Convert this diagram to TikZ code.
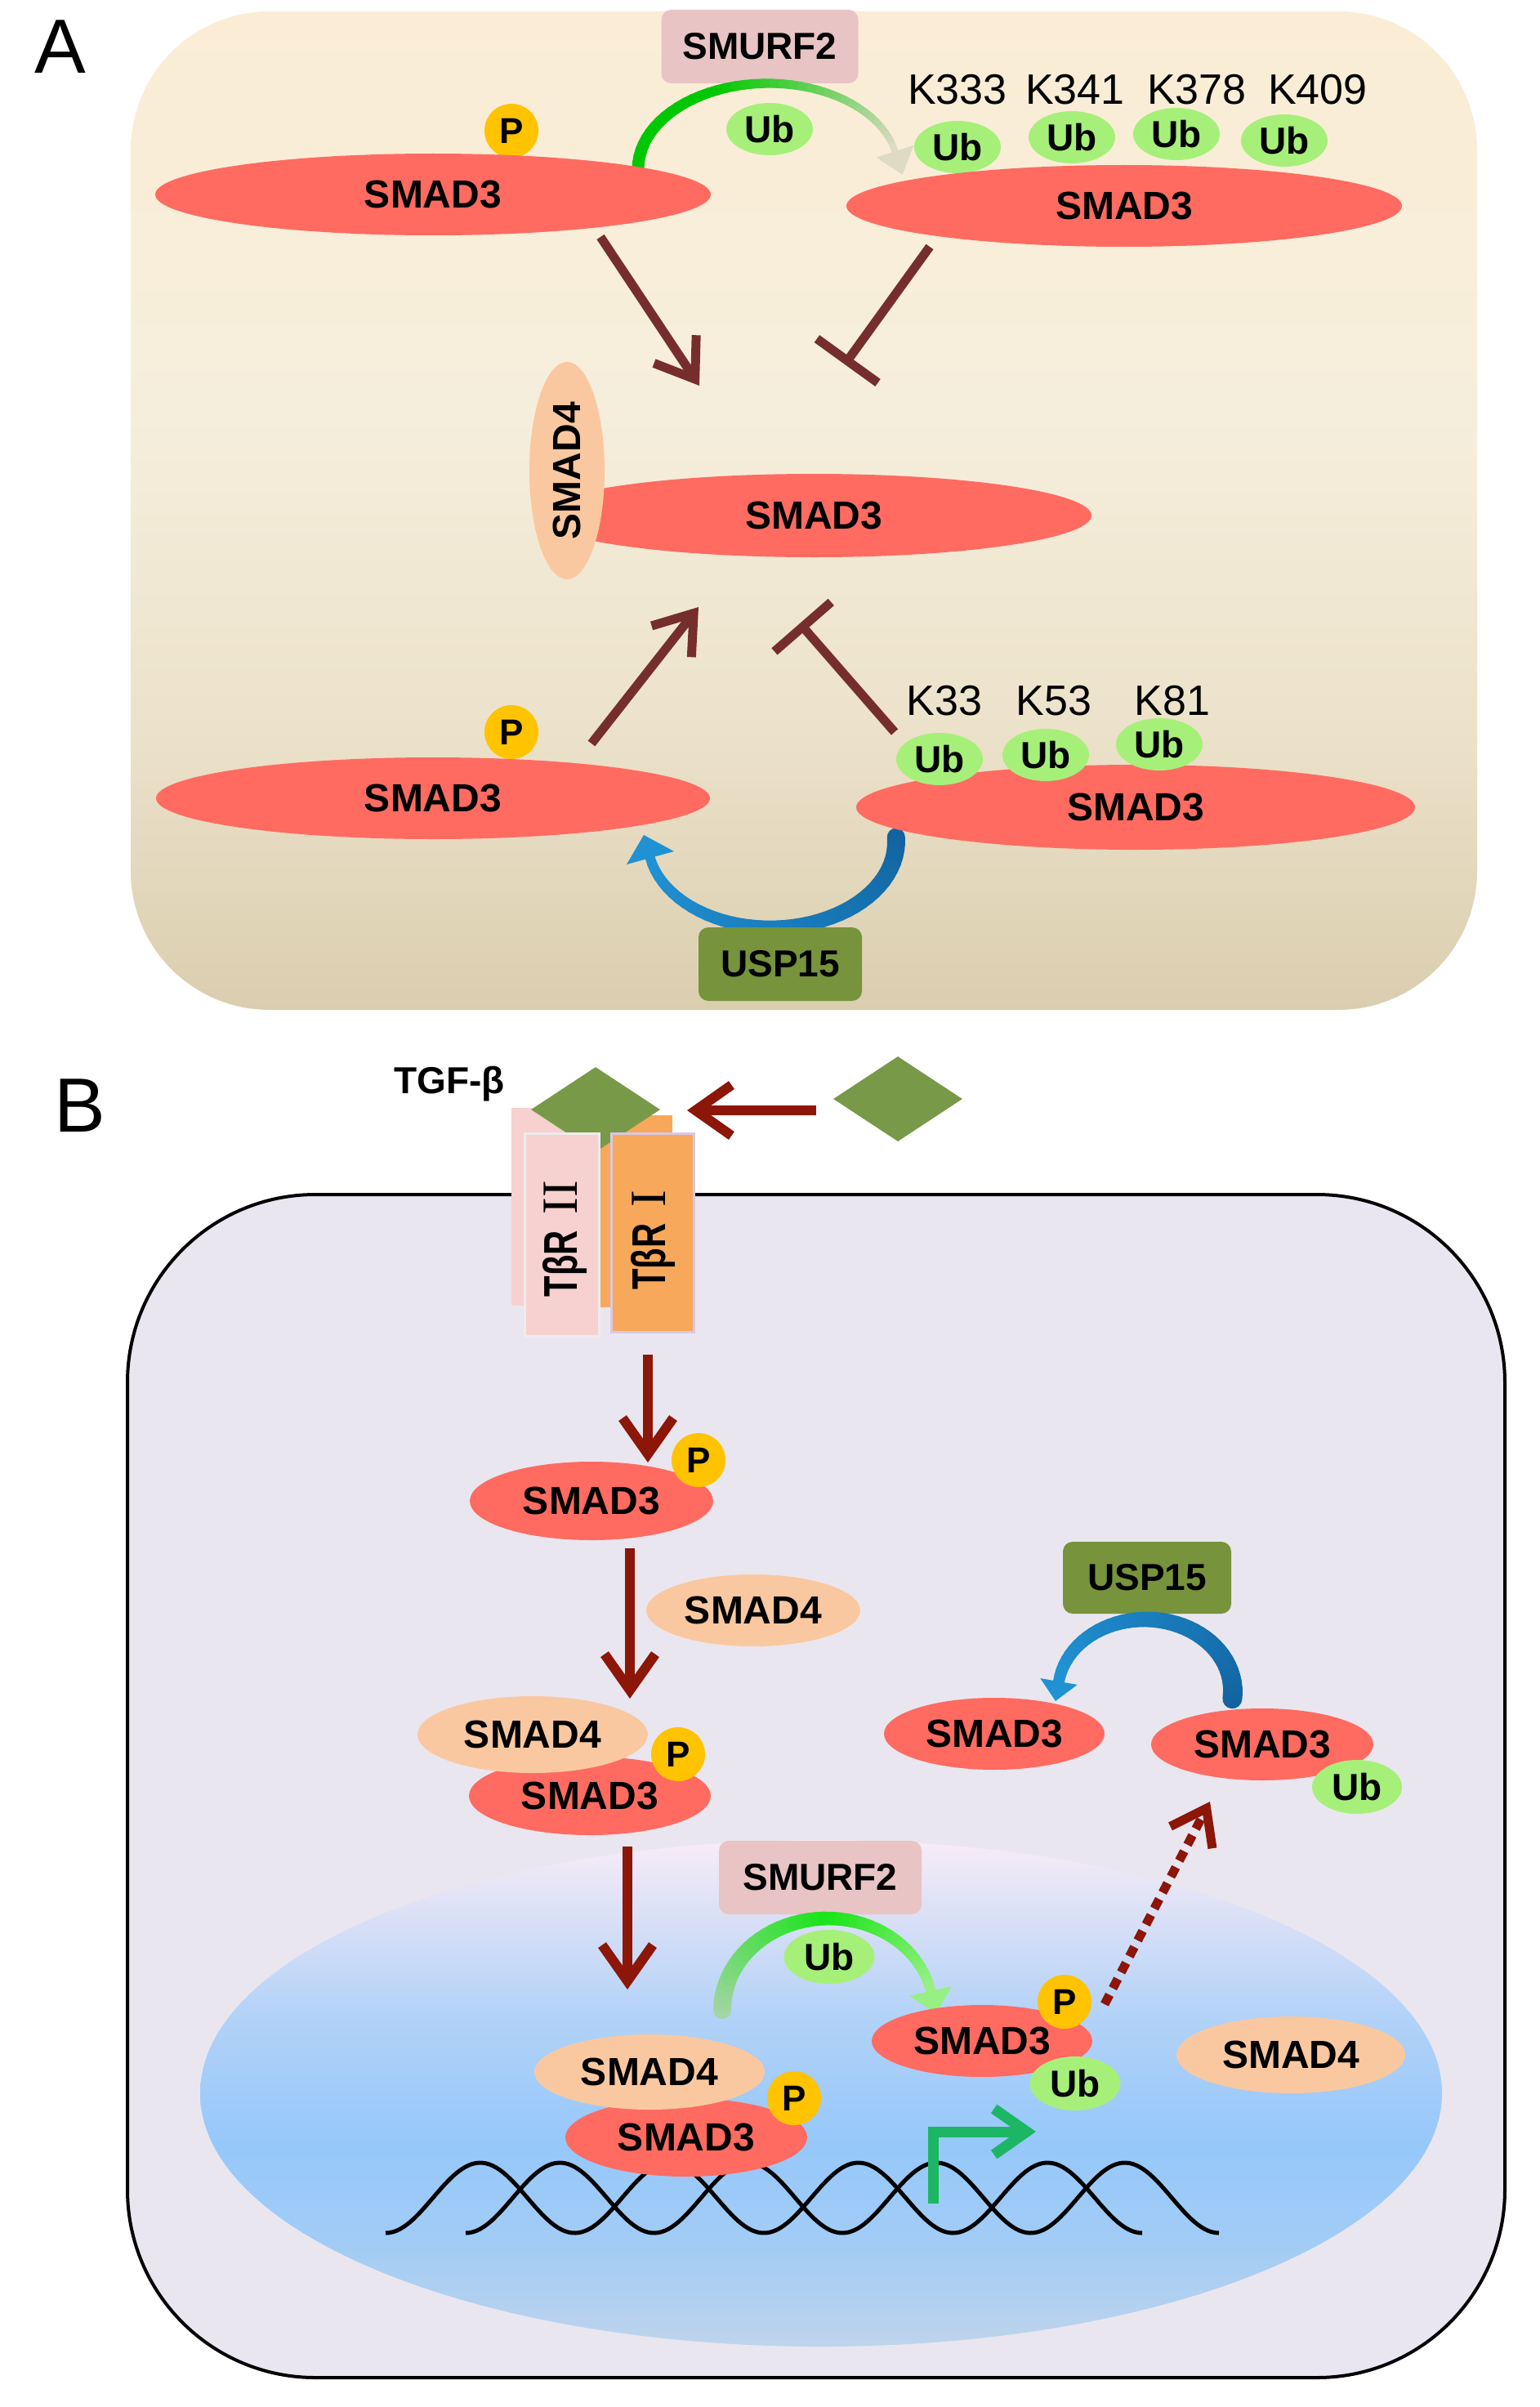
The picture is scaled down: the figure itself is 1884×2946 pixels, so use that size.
\documentclass[tikz,border=0pt]{standalone}
\usepackage{fontspec}
\setmainfont{Liberation Sans}
\newfontfamily\romanfont{Liberation Serif}
\usetikzlibrary{shapes.geometric,arrows.meta}
\definecolor{smadred}{RGB}{255,107,97}
\definecolor{smadpeach}{RGB}{250,200,160}
\definecolor{pgold}{RGB}{255,195,0}
\definecolor{ubgreen}{RGB}{166,240,122}
\definecolor{smurfpink}{RGB}{232,196,196}
\definecolor{uspolive}{RGB}{119,147,60}
\definecolor{diamondgreen}{RGB}{120,154,72}
\definecolor{brownA}{RGB}{118,46,44}
\definecolor{darkredB}{RGB}{140,22,8}
\definecolor{bentgreen}{RGB}{28,182,100}
\definecolor{cellfill}{RGB}{234,230,240}
\definecolor{panelAtop}{RGB}{251,237,213}
\definecolor{panelAmid}{RGB}{246,238,220}
\definecolor{panelAlow}{RGB}{237,227,204}
\definecolor{panelAbot}{RGB}{219,206,175}
\definecolor{nuctop}{RGB}{248,236,248}
\definecolor{nucmthree}{RGB}{218,224,246}
\definecolor{nucmtwo}{RGB}{178,210,248}
\definecolor{nucmid}{RGB}{150,200,250}
\definecolor{nucbtwo}{RGB}{162,204,245}
\definecolor{nucbot}{RGB}{190,212,236}
\definecolor{grnA}{RGB}{0,200,0}
\definecolor{paleA}{RGB}{222,218,196}
\definecolor{blueDark}{RGB}{18,100,160}
\definecolor{blueLight}{RGB}{32,146,212}
\definecolor{grnBpale}{RGB}{165,212,165}
\definecolor{grnBbright}{RGB}{25,228,25}
\definecolor{grnBlight}{RGB}{150,240,130}
\definecolor{trtwo}{RGB}{247,208,208}
\definecolor{trone}{RGB}{248,168,90}
\definecolor{trtwoedge}{RGB}{236,236,236}
\definecolor{troneedge}{RGB}{215,200,232}
\pgfdeclareverticalshading{nucshade}{100bp}{color(0bp)=(nucbot); color(25bp)=(nucbot); color(35bp)=(nucbtwo); color(45bp)=(nucmid); color(57.5bp)=(nucmtwo); color(67.5bp)=(nucmthree); color(75bp)=(nuctop); color(100bp)=(nuctop)}
\pgfdeclareverticalshading{panelAshade}{100bp}{color(0bp)=(panelAbot); color(25bp)=(panelAbot); color(40bp)=(panelAlow); color(55bp)=(panelAmid); color(75bp)=(panelAtop); color(100bp)=(panelAtop)}
\tikzset{
  lbl/.style={font=\fontsize{48}{50}\selectfont\bfseries, text=black},
  smadthree/.style={ellipse, fill=smadred, inner sep=0pt, lbl},
  smadfour/.style={ellipse, fill=smadpeach, inner sep=0pt, lbl},
  pdot/.style={circle, fill=pgold, inner sep=0pt, minimum size=66pt, font=\fontsize{44}{46}\selectfont\bfseries},
  ubdot/.style={ellipse, fill=ubgreen, inner sep=0pt, minimum width=106pt, minimum height=64pt, font=\fontsize{46}{48}\selectfont\bfseries},
  enzbox/.style={rectangle, rounded corners=12pt, inner sep=0pt, font=\fontsize{46}{48}\selectfont\bfseries},
  klabel/.style={font=\fontsize{52}{54}\selectfont},
  panellabel/.style={font=\fontsize{94}{96}\selectfont},
  tgflbl/.style={font=\fontsize{46}{48}\selectfont\bfseries},
  trlbl/.style={rotate=90, inner sep=0pt, font=\fontsize{58}{60}\selectfont},
  recbox/.style={rectangle, inner sep=0pt},
  ligand/.style={diamond, fill=diamondgreen, inner sep=0pt, minimum width=158pt, minimum height=104pt},
  brownarrow/.style={draw=brownA, line width=11pt, -{Straight Barb[length=44pt,width=62pt]}},
  browninhib/.style={draw=brownA, line width=11pt, -{Bar[width=92pt]}},
  redarrow/.style={draw=darkredB, line width=12pt, -{Straight Barb[length=44pt,width=62pt]}},
  dotarrow/.style={draw=darkredB, line width=11pt, dash pattern=on 13pt off 9pt, -{Straight Barb[length=40pt,width=58pt]}},
  bentarrow/.style={draw=bentgreen, line width=13pt, -{Straight Barb[length=40pt,width=56pt]}},
  dnastrand/.style={draw=black, line width=5pt},
}
\begin{document}
\begin{tikzpicture}[x=1pt,y=-1pt]
\useasboundingbox (0,0) rectangle (1884,2946);
\fill[white] (0,0) rectangle (1884,2946);

%================ PANEL A =================
\shade[shading=panelAshade, rounded corners=170pt] (160,14) rectangle (1808,1236);
\node[panellabel] (labA) at (74,57) {A};

\node[enzbox, fill=smurfpink, minimum width=241pt, minimum height=90pt] (smurfA) at (930,57) {SMURF2};

% green ubiquitination arc (panel A)
\foreach \i in {0,...,39}{
  \pgfmathsetmacro{\ta}{180-\i*4.2}
  \pgfmathsetmacro{\tb}{180-(\i+1)*4.2}
  \pgfmathsetmacro{\pp}{min(100,max(0,100*(1-\i/39)/0.6))}
  \pgfmathsetmacro{\ww}{15-7*\i/39}
  \draw[line width=\ww pt, line cap=round, color=grnA!\pp!paleA]
    ({940+159*cos(\ta)},{207-105*sin(\ta)}) -- ({940+159*cos(\tb)},{207-105*sin(\tb)});
}
\fill[paleA] (1118.3,177.8) -- (1072.7,192.6) -- (1104.7,213.8) -- cycle;
\node[ubdot] (ubA0) at (942,158) {Ub};

\node[pdot] (pA1) at (626,160) {P};
\node[smadthree, minimum width=680pt, minimum height=100pt] (sA1) at (530,238) {SMAD3};

\node[ubdot] (ubA1) at (1172,180) {Ub};
\node[ubdot] (ubA2) at (1312,168) {Ub};
\node[ubdot] (ubA3) at (1440,164) {Ub};
\node[ubdot] (ubA4) at (1572,172) {Ub};
\node[smadthree, minimum width=680pt, minimum height=100pt] (sA2) at (1376,252) {SMAD3};
\node[klabel] (k333) at (1172,110) {K333};
\node[klabel] (k341) at (1316,110) {K341};
\node[klabel] (k378) at (1465,110) {K378};
\node[klabel] (k409) at (1613,110) {K409};

\node[smadthree, minimum width=680pt, minimum height=102pt] (sA3) at (996,631) {SMAD3};
\node[smadfour, rotate=90, minimum width=266pt, minimum height=92pt] (s4A) at (694,576) {SMAD4};

\coordinate (a1s) at (735,290);  \coordinate (a1e) at (856,472);
\coordinate (i1s) at (1138,302); \coordinate (i1e) at (1034,446);
\coordinate (a2s) at (724,910);  \coordinate (a2e) at (855,743);
\coordinate (i2s) at (1095,896); \coordinate (i2e) at (979,763);
\draw[brownarrow] (a1s) -- (a1e);
\draw[browninhib] (i1s) -- (i1e);
\draw[brownarrow] (a2s) -- (a2e);
\draw[browninhib] (i2s) -- (i2e);

% blue deubiquitination arc (panel A)
\foreach \i in {0,...,39}{
  \pgfmathsetmacro{\ta}{3-\i*4.3}
  \pgfmathsetmacro{\tb}{3-(\i+1)*4.3}
  \pgfmathsetmacro{\pp}{100*(1-\i/39)}
  \pgfmathsetmacro{\ww}{22-10*\i/39}
  \draw[line width=\ww pt, line cap=round, color=blueDark!\pp!blueLight]
    ({945+152*cos(\ta)},{1030-105*sin(\ta)}) -- ({945+152*cos(\tb)},{1030-105*sin(\tb)});
}
\fill[blueLight] (825,1042) -- (767,1058) -- (788,1022) -- cycle;

\node[pdot] (pA4) at (626,896) {P};
\node[smadthree, minimum width=678pt, minimum height=100pt] (sA4) at (530,977) {SMAD3};
\node[smadthree, minimum width=684pt, minimum height=104pt] (sA5) at (1390,988) {SMAD3};
\node[ubdot] (ubA5) at (1150,929) {Ub};
\node[ubdot] (ubA6) at (1280,924) {Ub};
\node[ubdot] (ubA7) at (1419,911) {Ub};
\node[klabel] (k33) at (1156,858) {K33};
\node[klabel] (k53) at (1290,858) {K53};
\node[klabel] (k81) at (1435,858) {K81};
\node[enzbox, fill=uspolive, minimum width=200pt, minimum height=90pt] (uspA) at (955,1180) {USP15};

%================ PANEL B =================
\draw[line width=4pt, fill=cellfill, rounded corners=230pt] (156,1462) rectangle (1842,2910);
\shade[shading=nucshade] (1005,2562) ellipse [x radius=760pt, y radius=310pt];

\node[panellabel] (labB) at (98,1353) {B};
\node[tgflbl] (tgf) at (550,1327) {TGF-β};

\node[recbox, fill=trtwo, minimum width=114pt, minimum height=242pt] (tr2back) at (683,1477) {};
\node[recbox, fill=trone, minimum width=91pt, minimum height=235pt] (tr1back) at (777.5,1482.5) {};
\node[ligand] (tgfL) at (729,1358) {};
\node[recbox, draw=trtwoedge, line width=3pt, fill=trtwo, minimum width=91pt, minimum height=248pt] (tr2) at (687.5,1511) {};
\node[recbox, draw=troneedge, line width=3pt, fill=trone, minimum width=101pt, minimum height=243pt] (tr1) at (798.5,1508.5) {};
\node[trlbl] (tr2lbl) at (691,1516) {\scalebox{0.72}[1]{\bfseries TβR}\hspace{20pt}{\romanfont\fontsize{62}{64}\selectfont II}};
\node[trlbl] (tr1lbl) at (799,1518) {\scalebox{0.72}[1]{\bfseries TβR}\hspace{20pt}{\romanfont\fontsize{62}{64}\selectfont I}};

\node[ligand] (tgfR) at (1099,1345) {};
\coordinate (tgfas) at (999,1359); \coordinate (tgfae) at (841,1359);
\draw[redarrow] (tgfas) -- (tgfae);

\coordinate (b1s) at (793,1658); \coordinate (b1e) at (793,1790);
\draw[redarrow] (b1s) -- (b1e);
\node[smadthree, minimum width=298pt, minimum height=96pt] (sB1) at (724,1837) {SMAD3};
\node[pdot] (pB1) at (855,1787) {P};

\coordinate (b2s) at (771,1895); \coordinate (b2e) at (771,2079);
\draw[redarrow] (b2s) -- (b2e);
\node[smadfour, minimum width=262pt, minimum height=88pt] (s4B1) at (922,1971) {SMAD4};

\node[smadthree, minimum width=296pt, minimum height=96pt] (sB2) at (722,2198) {SMAD3};
\node[smadfour, minimum width=282pt, minimum height=94pt] (s4B2) at (652,2123) {SMAD4};
\node[pdot] (pB2) at (830,2147) {P};

\node[enzbox, fill=uspolive, minimum width=206pt, minimum height=88pt] (uspB) at (1404,1931) {USP15};
% blue arc (panel B)
\foreach \i in {0,...,39}{
  \pgfmathsetmacro{\ta}{-6+\i*4.45}
  \pgfmathsetmacro{\tb}{-6+(\i+1)*4.45}
  \pgfmathsetmacro{\pp}{100*(1-\i/39)}
  \pgfmathsetmacro{\ww}{24-10*\i/39}
  \draw[line width=\ww pt, line cap=round, color=blueDark!\pp!blueLight]
    ({1402+107*cos(\ta)},{2070-88*sin(\ta)}) -- ({1402+107*cos(\tb)},{2070-88*sin(\tb)});
}
\fill[blueLight] (1318.7,2061.9) -- (1273.3,2054.1) -- (1292,2082) -- cycle;
\node[smadthree, minimum width=270pt, minimum height=88pt] (sB3) at (1217,2122) {SMAD3};
\node[smadthree, minimum width=272pt, minimum height=88pt] (sB4) at (1545,2135) {SMAD3};
\node[ubdot, minimum width=110pt, minimum height=66pt] (ubB1) at (1661,2187) {Ub};

\coordinate (b3s) at (768,2260); \coordinate (b3e) at (768,2435);
\draw[redarrow] (b3s) -- (b3e);

\node[enzbox, fill=smurfpink, minimum width=248pt, minimum height=90pt] (smurfB) at (1004,2298) {SMURF2};
% green arc (panel B)
\foreach \i in {0,...,39}{
  \pgfmathsetmacro{\ta}{180-\i*4.2}
  \pgfmathsetmacro{\tb}{180-(\i+1)*4.2}
  \pgfmathsetmacro{\pp}{min(100,100*(\i/39)/0.55)}
  \pgfmathsetmacro{\rr}{min(100,100*(1-\i/39)/0.45)}
  \pgfmathsetmacro{\ww}{22-10*\i/39}
  \draw[line width=\ww pt, line cap=round, color=grnBbright!\pp!grnBpale!\rr!grnBlight]
    ({1013+129*cos(\ta)},{2460-112*sin(\ta)}) -- ({1013+129*cos(\tb)},{2460-112*sin(\tb)});
}
\fill[grnBlight] (1165,2431) -- (1113,2443) -- (1146,2464) -- cycle;
\node[ubdot, minimum width=111pt, minimum height=66pt] (ubB2) at (1015,2395) {Ub};

% DNA
\draw[dnastrand] plot[domain=472:1398, samples=220] (\x,{2690+43*cos(1.5551*(\x-472))});
\draw[dnastrand] plot[domain=570:1492, samples=220] (\x,{2690+43*cos(1.5618*(\x-570))});

\node[smadthree, minimum width=296pt, minimum height=96pt] (sB6) at (840,2616) {SMAD3};
\node[smadfour, minimum width=282pt, minimum height=92pt] (s4B3) at (795,2536) {SMAD4};
\node[pdot] (pB3) at (972,2568) {P};

\node[smadthree, minimum width=270pt, minimum height=88pt] (sB5) at (1202,2498) {SMAD3};
\node[pdot] (pB4) at (1303,2450) {P};
\node[ubdot, minimum width=111pt, minimum height=66pt] (ubB3) at (1316,2550) {Ub};
\node[smadfour, minimum width=280pt, minimum height=94pt] (s4B4) at (1580,2515) {SMAD4};

\coordinate (dts) at (1352,2453); \coordinate (dte) at (1481,2205);
\draw[dotarrow] (dts) -- (dte);

\coordinate (tss) at (1142,2697); \coordinate (tse) at (1268,2609);
\draw[bentarrow] (tss) |- (tse);
\end{tikzpicture}
\end{document}
